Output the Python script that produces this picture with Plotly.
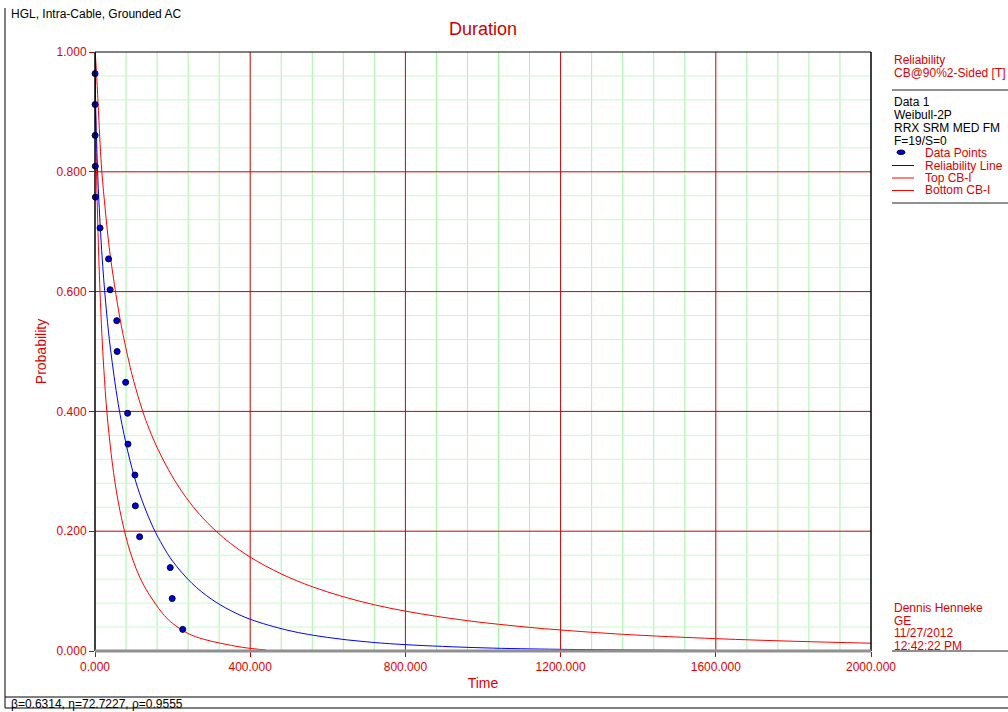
import plotly.graph_objects as go

# ---------------- data ----------------
point_times = [0.1, 0.2, 0.3, 0.8, 1.0, 13, 35, 39, 56, 57, 79, 84, 85, 103, 104, 115, 194, 199, 226]
point_rel = [0.9639, 0.9124, 0.8608, 0.8093, 0.7577, 0.7062, 0.6546, 0.6031, 0.5515, 0.5000,
             0.4485, 0.3969, 0.3454, 0.2938, 0.2423, 0.1907, 0.1392, 0.0876, 0.0361]

line_times = [0, 0.05, 0.25, 1, 2, 5, 10, 20, 30, 40, 60, 80, 100, 120, 150, 175, 200, 250, 300,
              350, 400, 500, 600, 700, 800, 1000, 1200, 1600, 2000]
line_rel = [1.0, 0.990, 0.9726, 0.935, 0.902, 0.832, 0.751, 0.642, 0.564, 0.504, 0.412, 0.346,
            0.294, 0.2536, 0.206, 0.1754, 0.150, 0.1129, 0.0866, 0.0674, 0.053, 0.0341, 0.0226,
            0.0153, 0.0106, 0.0053, 0.0028, 0.0009, 0.0003]

top_times = [0, 1, 2.5, 4.7, 9, 13.3, 17.6, 27, 36.5, 50, 58, 71.7, 91, 100, 123, 140, 162, 200, 235,
             270, 312, 350, 400, 480, 560, 640, 720, 800, 880, 960, 1040, 1120, 1200, 1360, 1600,
             1800, 2000]
top_rel = [1.0, 0.994, 0.980, 0.956, 0.900, 0.845, 0.800, 0.733, 0.674, 0.612, 0.579, 0.530,
           0.473, 0.450, 0.400, 0.370, 0.337, 0.2905, 0.256, 0.2277, 0.200, 0.1793, 0.1567,
           0.1287, 0.1073, 0.0906, 0.0771, 0.0666, 0.0579, 0.0506, 0.0446, 0.0394, 0.0351,
           0.0279, 0.0206, 0.0163, 0.0130]

bot_times = [0, 1, 2, 3.9, 6, 9.8, 13, 17.6, 22.8, 30.5, 41.6, 50, 60.5, 76, 90, 106, 125, 149,
             179, 200, 239, 280, 325, 380, 441]
bot_rel = [1.0, 0.9165, 0.869, 0.800, 0.741, 0.656, 0.599, 0.530, 0.470, 0.400, 0.3297, 0.288,
           0.2468, 0.200, 0.1668, 0.1373, 0.1103, 0.0851, 0.0591, 0.0461, 0.0295, 0.0196, 0.0128,
           0.0061, 0.0017]

x_ticks = [0, 400, 800, 1200, 1600, 2000]
y_ticks = [0.0, 0.2, 0.4, 0.6, 0.8, 1.0]
x_minor_step = 80
y_minor_step = 0.04

legend_header = ["Reliability", "CB@90%2-Sided [T]"]
legend_info = ["Data 1", "Weibull-2P", "RRX SRM MED FM", "F=19/S=0"]
legend_items = ["Data Points", "Reliability Line", "Top CB-I", "Bottom CB-I"]
footer_right = ["Dennis Henneke", "GE", "11/27/2012", "12:42:22 PM"]
top_label = "HGL, Intra-Cable, Grounded AC"
bottom_label = "β=0.6314, η=72.7227, ρ=0.9555"

# ---------------- layout geometry ----------------
W, H = 1008, 712
PL, PR, PT, PB = 95, 871, 52, 651
FONT = "Liberation Sans, Arial, sans-serif"
RED = "#cc0000"
TXTRED = "#dd0000"


def px(x):
    return (x - PL) / (PR - PL)


def py(y):
    return (PB - y) / (PB - PT)


fig = go.Figure()

spl = dict(width=1, shape="spline", smoothing=1.0)
fig.add_trace(go.Scatter(x=bot_times, y=bot_rel, mode="lines", line=dict(color="#ff0000", **spl), name="Bottom CB-I"))
fig.add_trace(go.Scatter(x=top_times, y=top_rel, mode="lines", line=dict(color="#ff0000", **spl), name="Top CB-I"))
fig.add_trace(go.Scatter(x=line_times, y=line_rel, mode="lines", line=dict(color="#0000ff", **spl), name="Reliability Line"))
fig.add_trace(go.Scatter(x=point_times, y=point_rel, mode="markers", cliponaxis=False,
                         marker=dict(symbol="circle", size=6, color="#0000dd", line=dict(color="#000033", width=1)),
                         name="Data Points"))

shapes = []
# grid (minor green, then major red)
xmax, ymax = x_ticks[-1], y_ticks[-1]
n = 1
while n * x_minor_step < xmax:
    v = n * x_minor_step
    if v % 400 != 0:
        shapes.append(dict(type="line", xref="x", yref="paper", x0=v, x1=v, y0=0, y1=1,
                           line=dict(color="#a6f5a6", width=1), layer="below"))
    n += 1
n = 1
while n * y_minor_step < ymax - 1e-9:
    v = round(n * y_minor_step, 4)
    if n % 5 != 0:
        shapes.append(dict(type="line", xref="paper", yref="y", x0=0, x1=1, y0=v, y1=v,
                           line=dict(color="#c8f8c8", width=1), layer="below"))
    n += 1
for v in x_ticks[1:-1]:
    shapes.append(dict(type="line", xref="x", yref="paper", x0=v, x1=v, y0=0, y1=1,
                       line=dict(color=RED, width=1), layer="below"))
for v in y_ticks[1:-1]:
    shapes.append(dict(type="line", xref="paper", yref="y", x0=0, x1=1, y0=v, y1=v,
                       line=dict(color=RED, width=1), layer="below"))

# axes frame
shapes.append(dict(type="line", xref="paper", yref="paper", x0=0, x1=1, y0=1, y1=1, line=dict(color="black", width=1), layer="above"))
shapes.append(dict(type="line", xref="paper", yref="paper", x0=0, x1=0, y0=0, y1=1, line=dict(color="black", width=1.5), layer="above"))
shapes.append(dict(type="line", xref="paper", yref="paper", x0=1, x1=1, y0=0, y1=1, line=dict(color="black", width=1.5), layer="above"))
shapes.append(dict(type="line", xref="paper", yref="paper", x0=0, x1=1, y0=0, y1=0, line=dict(color="#909090", width=3), layer="above"))
# outer frame
shapes.append(dict(type="line", xref="paper", yref="paper", x0=px(5), x1=px(5), y0=py(8), y1=py(708), line=dict(color="black", width=1)))
shapes.append(dict(type="line", xref="paper", yref="paper", x0=px(5), x1=px(1008), y0=py(697), y1=py(697), line=dict(color="black", width=1)))
shapes.append(dict(type="line", xref="paper", yref="paper", x0=px(5), x1=px(1008), y0=py(708), y1=py(708), line=dict(color="black", width=1)))
# legend separators
for yy in (90, 203, 651):
    shapes.append(dict(type="line", xref="paper", yref="paper", x0=px(892), x1=px(1008), y0=py(yy), y1=py(yy), line=dict(color="#909090", width=2)))
# legend symbols
shapes.append(dict(type="circle", xref="paper", yref="paper", x0=px(897), x1=px(905), y0=py(150), y1=py(154.5), fillcolor="#0000dd", line=dict(color="#000033", width=1)))
shapes.append(dict(type="line", xref="paper", yref="paper", x0=px(892), x1=px(914), y0=py(165.5), y1=py(165.5), line=dict(color="#0000ff", width=1)))
shapes.append(dict(type="line", xref="paper", yref="paper", x0=px(892), x1=px(914), y0=py(178), y1=py(178), line=dict(color="#ff0000", width=1)))
shapes.append(dict(type="line", xref="paper", yref="paper", x0=px(892), x1=px(914), y0=py(190.5), y1=py(190.5), line=dict(color="#ff0000", width=1)))

ann = []


def text(x, y, s, color, size=11, anchor="left"):
    ann.append(dict(xref="paper", yref="paper", x=px(x), y=py(y), text=s, showarrow=False,
                    xanchor=anchor, yanchor="middle", font=dict(family=FONT, size=size, color=color)))


text(9, 14, top_label, "black", 12)
text(9, 704, bottom_label, "black", 12)
for i, s in enumerate(legend_header):
    text(892, 60 + 13 * i, s, TXTRED, 12)
for i, s in enumerate(legend_info):
    text(892, 102 + 13 * i, s, "black", 12)
for i, s in enumerate(legend_items):
    text(923, 153 + 12.5 * i, s, TXTRED, 12)
for i, s in enumerate(footer_right):
    text(892, 608 + 12.7 * i, s, TXTRED, 12)

fig.update_layout(
    width=W, height=H,
    margin=dict(l=PL, r=W - PR, t=PT, b=H - PB),
    paper_bgcolor="white", plot_bgcolor="white",
    showlegend=False,
    title=dict(text="Duration", x=(PL + PR) / 2 / W, xanchor="center", y=1 - 29 / H, yanchor="middle",
               font=dict(family=FONT, size=18, color="#cc0000")),
    shapes=shapes, annotations=ann,
    font=dict(family=FONT),
)

fig.update_xaxes(range=[0, 2000], tickvals=x_ticks, tickformat=".3f",
                 showgrid=False, zeroline=False, showline=False,
                 ticks="outside", ticklen=5, tickcolor=RED,
                 tickfont=dict(family=FONT, size=12, color=TXTRED),
                 title=dict(text="Time", font=dict(family=FONT, size=14, color=TXTRED), standoff=4))
fig.update_yaxes(range=[0, 1], tickvals=y_ticks, tickformat=".3f",
                 showgrid=False, zeroline=False, showline=False,
                 ticks="outside", ticklen=5, tickcolor=RED,
                 tickfont=dict(family=FONT, size=12, color=TXTRED),
                 title=dict(text="Probability", font=dict(family=FONT, size=14, color=TXTRED), standoff=6))

fig.write_html("out.html")
